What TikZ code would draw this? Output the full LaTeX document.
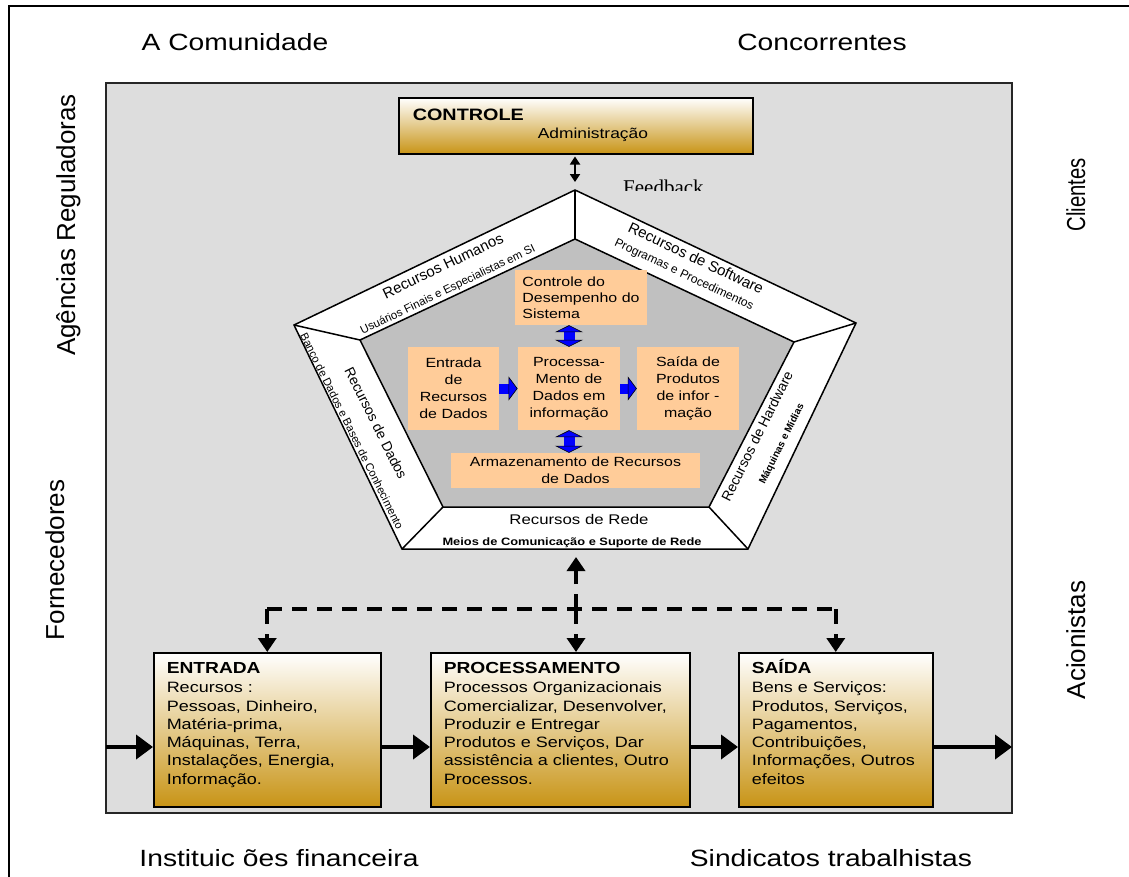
\documentclass[tikz,border=0pt]{standalone}
\usepackage{fontspec}
\setmainfont{Liberation Sans}
\newfontfamily\widesans{Liberation Sans}[FakeStretch=1.2]
\newfontfamily\narrowsans{Liberation Sans}[FakeStretch=0.78]
\newfontfamily\plainserif{Liberation Serif}
\usepackage{tikz}
\usetikzlibrary{arrows.meta}
\definecolor{panelgray}{RGB}{221,221,221}
\definecolor{pentgray}{RGB}{192,192,192}
\definecolor{peach}{RGB}{255,204,153}
\definecolor{gold}{RGB}{200,148,22}
\def\fsz#1#2{\fontsize{#1}{#2}\selectfont}
\def\boxtext#1#2{\begin{minipage}[c][142pt][t]{#1}\raggedright\rule{0pt}{14.5pt}#2\end{minipage}}
\tikzset{
	outerlabel/.style={font=\widesans\fsz{23.5}{28}, anchor=base, inner sep=0pt},
	sidelabel/.style={font=\fsz{26}{30}, anchor=base, rotate=90, inner sep=0pt},
	goldbox/.style={draw=black, line width=1.5pt, top color=white, bottom color=gold, anchor=north west, inner xsep=13pt, inner ysep=6pt, font=\widesans\fsz{15}{18.3}},
	peachbox/.style={fill=peach, inner sep=0pt, align=center, font=\widesans\fsz{13.3}{17}},
	bandtext/.style={inner sep=0pt, font=\fsz{#1}{#1}},
	pentline/.style={draw=black, line width=1.5pt, line join=miter},
	bluearrow/.style={blue, line width=10pt, -{Triangle[length=9pt,width=24pt,fill=blue,color=black,line width=0.6pt]}},
	bluedouble/.style={blue, line width=11pt, {Triangle[length=7pt,width=28pt,fill=blue,color=black,line width=0.6pt]}-{Triangle[length=7pt,width=28pt,fill=blue,color=black,line width=0.6pt]}},
	flowarrow/.style={line width=4pt, -{Triangle[length=17pt,width=24pt]}},
	dashline/.style={line width=4pt, dash pattern=on 15pt off 10pt},
	dasharrow/.style={dashline, -{Triangle[length=14pt,width=18pt]}},
	fbarrow/.style={line width=1.8pt, {Triangle[length=8pt,width=10pt]}-{Triangle[length=8pt,width=10pt]}},
}

\begin{document}
\begin{tikzpicture}[x=1pt, y=-1pt]
			%%%%% START %%%%%
			\useasboundingbox (0,0) rectangle (1129,876);
			
			\draw[line width=1.2pt] (9,6) rectangle (1140,890);
			\draw[fill=panelgray, draw=black!85, line width=1.5pt] (106,83) rectangle (1012,813);
			
			\node[outerlabel] (comunidade) at (235,50) {A Comunidade};
			\node[outerlabel] (concorrentes) at (822,50) {Concorrentes};
			\node[outerlabel] (instituicoes) at (279,866) {Instituic ões financeira};
			\node[outerlabel] (sindicatos) at (831,866) {Sindicatos trabalhistas};
			\node[sidelabel] (agencias) at (75,225) {Agências Reguladoras};
			\node[sidelabel] (fornecedores) at (64,560) {Fornecedores};
			\node[sidelabel, font=\narrowsans\fsz{26}{30}] (clientes) at (1085,195) {Clientes};
			\node[sidelabel] (acionistas) at (1085,640) {Acionistas};
			
			\node[goldbox, inner xsep=14pt, inner ysep=8pt, font=\widesans\fsz{14.5}{18}] (controle) at (398,97) {\begin{minipage}[c][40pt][t]{326pt}\rule{0pt}{14.8pt}{\fsz{16.5}{18}\bfseries CONTROLE}\\\hspace*{125pt}Administração\end{minipage}};
			
			\begin{scope}
				\clip (600,170) rectangle (720,190);
				\node[font=\plainserif\fsz{21}{24}, anchor=base west, inner sep=0pt] (feedback) at (623,194) {Feedback};
			\end{scope}
			
			% pentagono
			\coordinate (o1) at (575,190);
			\coordinate (o2) at (856,323);
			\coordinate (o3) at (748,549);
			\coordinate (o4) at (402,549);
			\coordinate (o5) at (294,325);
			\coordinate (i1) at (575,239);
			\coordinate (i2) at (794,342);
			\coordinate (i3) at (709,507);
			\coordinate (i4) at (443,507);
			\coordinate (i5) at (360,340);
			\coordinate (pbot) at (576,549);
			\draw[pentline, fill=white] (o1) -- (o2) -- (o3) -- (o4) -- (o5) -- cycle;
			\draw[pentline, fill=pentgray] (i1) -- (i2) -- (i3) -- (i4) -- (i5) -- cycle;
			\draw[pentline] (o1) -- (i1);
			\draw[pentline] (o2) -- (i2);
			\draw[pentline] (o3) -- (i3);
			\draw[pentline] (o4) -- (i4);
			\draw[pentline] (o5) -- (i5);
			
			\draw[fbarrow, shorten <=2pt, shorten >=8pt] (controle.south -| o1) -- (o1);
			
			\node[bandtext=15, rotate=25.7] (humanos) at (443,266) {Recursos Humanos};
			\node[bandtext=11.5, rotate=25.7] (usuarios) at (448,290) {Usuários Finais e Especialistas em SI};
			\node[bandtext=15, rotate=-25.3] (software) at (696,258) {Recursos de Software};
			\node[bandtext=12, rotate=-25.3] (programas) at (684,275) {Programas e Procedimentos};
			\node[bandtext=14, rotate=-63.5] (dados) at (376,423) {Recursos de Dados};
			\node[bandtext=11.2, rotate=-63.5] (banco) at (352,431) {Banco de Dados e Bases de Conhecimento};
			\node[bandtext=14, rotate=63.5] (hardware) at (757,436) {Recursos de Hardware};
			\node[bandtext=10, rotate=63.5, font=\bfseries] (maquinas) at (782,444) {Máquinas e Mídias};
			\node[inner sep=0pt, font=\widesans\fsz{14}{16}] (rede) at (579,519) {Recursos de Rede};
			\node[inner sep=0pt, font=\widesans\fsz{10.7}{12}\bfseries] (meios) at (572,543) {Meios de Comunicação e Suporte de Rede};
			
			\node[peachbox, align=left, minimum width=132pt, minimum height=55pt, font=\widesans\fsz{13.3}{16}] (dataCtrl) at (581,297.5) {Controle do\\Desempenho do\\Sistema};
			\node[peachbox, minimum width=91pt, minimum height=83pt] (dataIn) at (453.5,388.5) {Entrada\\de\\Recursos\\de Dados};
			\node[peachbox, minimum width=102.5pt, minimum height=83pt] (dataProc) at (569,388.5) {Processa-\\Mento de\\Dados em\\informação};
			\node[peachbox, minimum width=102pt, minimum height=83pt] (dataOut) at (688,388.5) {Saída de\\Produtos\\de infor -\\mação};
			\node[peachbox, minimum width=249pt, minimum height=35pt] (dataStore) at (575.5,470.5) {Armazenamento de Recursos\\de Dados};
			
			\draw[bluedouble] (dataProc.north) -- (dataProc.north |- dataCtrl.south);
			\draw[bluedouble] (dataProc.south) -- (dataProc.south |- dataStore.north);
			\draw[bluearrow] (dataIn) -- (dataProc);
			\draw[bluearrow] (dataProc) -- (dataOut);
			
			\node[goldbox] (inbox) at (153,652) {\boxtext{201pt}{{\fsz{16}{18.3}\bfseries ENTRADA}\\[1.2pt]Recursos :\\Pessoas, Dinheiro,\\Matéria-prima,\\Máquinas, Terra,\\Instalações, Energia,\\Informação.}};
			\node[goldbox] (procbox) at (430,652) {\boxtext{233pt}{{\fsz{16}{18.3}\bfseries PROCESSAMENTO}\\[1.2pt]Processos Organizacionais\\Comercializar, Desenvolver,\\Produzir e Entregar\\Produtos e Serviços, Dar\\assistência a clientes, Outro\\Processos.}};
			\node[goldbox] (outbox) at (738,652) {\boxtext{168pt}{{\fsz{16}{18.3}\bfseries SAÍDA}\\[1.2pt]Bens e Serviços:\\Produtos, Serviços,\\Pagamentos,\\Contribuições,\\Informações, Outros\\efeitos}};
			
			\coordinate (hub) at (576,609);
			\draw[dashline] (inbox.north |- hub) -- (outbox.north |- hub);
			\draw[dasharrow] (inbox.north |- hub) -- (inbox.north);
			\draw[dasharrow] (hub) -- (hub |- procbox.north);
			\draw[dasharrow] (outbox.north |- hub) -- (outbox.north);
			\draw[dasharrow, shorten >=8pt] (hub) -- (pbot);
			
			\coordinate (flowL) at (106,747);
			\coordinate (flowR) at (1012,747);
			\draw[flowarrow] (flowL) -- (flowL -| inbox.west);
			\draw[flowarrow] (flowL -| inbox.east) -- (flowL -| procbox.west);
			\draw[flowarrow] (flowL -| procbox.east) -- (flowL -| outbox.west);
			\draw[flowarrow] (flowL -| outbox.east) -- (flowR);
			
			%%%%% END %%%%%
\end{tikzpicture}
\end{document}
